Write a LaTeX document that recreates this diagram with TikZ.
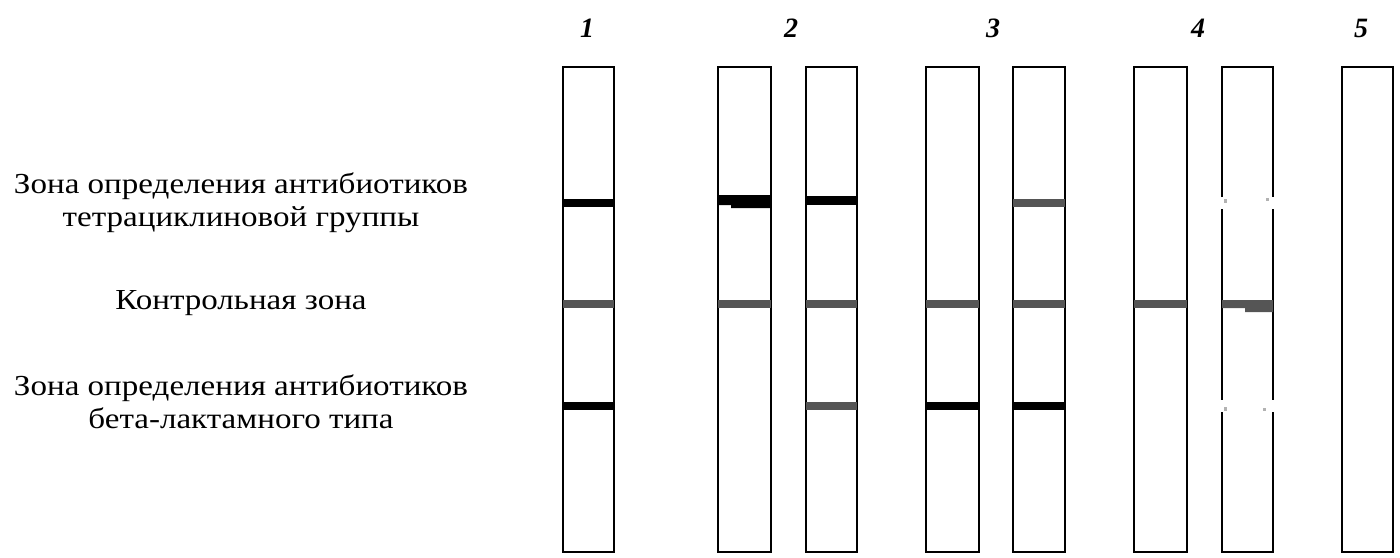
\documentclass[tikz,border=0pt]{standalone}
\usepackage{fontspec}
\setmainfont{Liberation Serif}
\newfontfamily\widefont[FakeStretch=1.14]{Liberation Serif}
\definecolor{bandgray}{HTML}{555555}
\tikzset{
  strip/.style={draw=black, line width=2.4pt, fill=white},
  lbl/.style={font=\widefont\fontsize{29}{33}\selectfont, align=center, anchor=center, inner sep=0pt},
  num/.style={font=\fontsize{28}{28}\selectfont\bfseries\itshape, inner sep=0pt},
  blackband/.style={fill=black},
  grayband/.style={fill=bandgray},
}
\begin{document}
\begin{tikzpicture}[x=1pt,y=-1pt]
\useasboundingbox (0,0) rectangle (1400,557);
% numbers
\node[num] (n1) at (587,28) {1};
\node[num] (n2) at (791,28) {2};
\node[num] (n3) at (993,28) {3};
\node[num] (n4) at (1198,28) {4};
\node[num] (n5) at (1361,28) {5};
% labels
\node[lbl] (l1) at (241,203) {Зона определения антибиотиков\\тетрациклиновой группы};
\node[lbl] (l2) at (241,303) {Контрольная зона};
\node[lbl] (l3) at (241,402) {Зона определения антибиотиков\\бета-лактамного типа};
% strips
\draw[strip] (563,67) rectangle (614,552);
\draw[strip] (718,67) rectangle (771,552);
\draw[strip] (806,67) rectangle (857,552);
\draw[strip] (926,67) rectangle (979,552);
\draw[strip] (1013,67) rectangle (1065,552);
\draw[strip] (1134,67) rectangle (1187,552);
\draw[strip] (1342,67) rectangle (1393,552);
% strip 4b with broken borders
\draw[line width=2.4pt] (1222,197) -- (1222,67) -- (1273,67) -- (1273,197);
\draw[line width=2.4pt] (1222,209) -- (1222,400);
\draw[line width=2.4pt] (1273,209) -- (1273,400);
\draw[line width=2.4pt] (1222,412) -- (1222,552) -- (1273,552) -- (1273,412);
\fill[gray!60] (1224,199) rectangle (1227,203);
\fill[gray!60] (1266,198) rectangle (1269,201);
\fill[gray!60] (1224,407) rectangle (1227,411);
\fill[gray!60] (1263,408) rectangle (1266,411);
% strip 1
\fill[blackband] (563,199) rectangle (614,207);
\fill[grayband] (563,300) rectangle (614,308);
\fill[blackband] (563,402) rectangle (614,410);
% strip 2a
\fill[blackband] (718,195) -- (771,195) -- (771,208) -- (731,208) -- (731,205) -- (718,205) -- cycle;
\fill[grayband] (718,300) rectangle (771,308);
% strip 2b
\fill[blackband] (806,196) rectangle (857,205);
\fill[grayband] (806,300) rectangle (857,308);
\fill[grayband] (806,402) rectangle (857,410);
% strip 3a
\fill[grayband] (926,300) rectangle (979,308);
\fill[blackband] (926,402) rectangle (979,410);
% strip 3b
\fill[grayband] (1013,199) rectangle (1065,207);
\fill[grayband] (1013,300) rectangle (1065,308);
\fill[blackband] (1013,402) rectangle (1065,410);
% strip 4a
\fill[grayband] (1134,300) rectangle (1187,308);
% strip 4b
\fill[grayband] (1222,300) -- (1273,300) -- (1273,312) -- (1245,312) -- (1245,308) -- (1222,308) -- cycle;
\end{tikzpicture}
\end{document}
